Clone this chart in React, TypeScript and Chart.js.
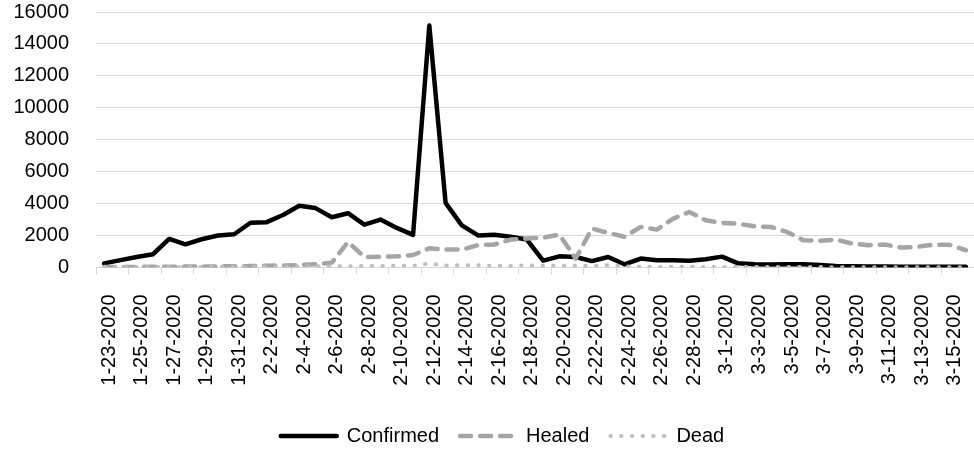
import React, { useEffect, useRef } from "react";
import { Chart, registerables } from "chart.js";

Chart.register(...registerables);

const dates: string[] = [
  "1-23-2020", "1-24-2020", "1-25-2020", "1-26-2020", "1-27-2020", "1-28-2020", "1-29-2020", "1-30-2020", "1-31-2020",
  "2-1-2020", "2-2-2020", "2-3-2020", "2-4-2020", "2-5-2020", "2-6-2020", "2-7-2020", "2-8-2020", "2-9-2020", "2-10-2020",
  "2-11-2020", "2-12-2020", "2-13-2020", "2-14-2020", "2-15-2020", "2-16-2020", "2-17-2020", "2-18-2020", "2-19-2020",
  "2-20-2020", "2-21-2020", "2-22-2020", "2-23-2020", "2-24-2020", "2-25-2020", "2-26-2020", "2-27-2020", "2-28-2020",
  "2-29-2020", "3-1-2020", "3-2-2020", "3-3-2020", "3-4-2020", "3-5-2020", "3-6-2020", "3-7-2020", "3-8-2020",
  "3-9-2020", "3-10-2020", "3-11-2020", "3-12-2020", "3-13-2020", "3-14-2020", "3-15-2020", "3-16-2020",
];

const confirmed: number[] = [
  260, 460, 660, 830, 1790, 1450, 1770, 2000, 2080,
  2800, 2840, 3290, 3870, 3720, 3150, 3400, 2680, 3000, 2480,
  2040, 15150, 4050, 2640, 2010, 2050, 1930, 1750, 430,
  700, 660, 400, 660, 200, 560, 460, 460, 420,
  520, 680, 260, 200, 190, 210, 200, 150, 90,
  80, 60, 60, 50, 40, 40, 50, 40,
];

const healed: number[] = [
  30, 30, 40, 40, 50, 60, 60, 70, 80,
  90, 110, 130, 150, 200, 300, 1600, 660, 670, 700,
  780, 1200, 1120, 1120, 1400, 1440, 1750, 1810, 1870,
  2060, 560, 2440, 2170, 1920, 2540, 2370, 3060, 3480,
  2960, 2790, 2750, 2580, 2540, 2230, 1710, 1670, 1750,
  1500, 1400, 1440, 1250, 1290, 1430, 1420, 1080,
];

const dead: number[] = [
  10, 15, 15, 25, 25, 25, 40, 40, 45,
  45, 55, 65, 65, 75, 75, 85, 90, 95, 105,
  100, 250, 120, 140, 140, 105, 100, 135, 115,
  120, 110, 100, 150, 70, 50, 30, 45, 45,
  35, 40, 30, 40, 30, 30, 30, 25, 20,
  20, 20, 10, 10, 10, 10, 15, 15,
];

const yTicks: number[] = [0, 2000, 4000, 6000, 8000, 10000, 12000, 14000, 16000];

const FONT = "'Liberation Sans', Arial, Helvetica, sans-serif";

const legendShift = {
  id: "legendShift",
  beforeDraw(chart: any) {
    const lg = chart.legend;
    if (lg) {
      lg.left = 31;
      lg.right = 974;
    }
  },
};

export default function App() {
  const ref = useRef<HTMLCanvasElement | null>(null);

  useEffect(() => {
    if (!ref.current) return;
    const chart = new Chart(ref.current, {
      type: "line",
      data: {
        labels: dates,
        datasets: [
          {
            label: "Dead",
            data: dead,
            borderColor: "#bfbfbf",
            backgroundColor: "#bfbfbf",
            borderWidth: 4,
            borderDash: [0.5, 10.2],
            borderCapStyle: "round",
            borderJoinStyle: "round",
            pointRadius: 0,
            tension: 0,
            fill: false,
          },
          {
            label: "Healed",
            data: healed,
            borderColor: "#a5a5a5",
            backgroundColor: "#a5a5a5",
            borderWidth: 4.5,
            borderDash: [11, 9],
            borderCapStyle: "round",
            borderJoinStyle: "round",
            pointRadius: 0,
            tension: 0,
            fill: false,
          },
          {
            label: "Confirmed",
            data: confirmed,
            borderColor: "#000000",
            backgroundColor: "#000000",
            borderWidth: 4.5,
            borderCapStyle: "round",
            borderJoinStyle: "round",
            pointRadius: 0,
            tension: 0,
            fill: false,
          },
        ],
      },
      options: {
        responsive: false,
        animation: false,
        devicePixelRatio: 1,
        layout: { padding: { left: 0, right: 0, top: 12, bottom: -7 } },
        plugins: {
          tooltip: { enabled: false },
          legend: {
            position: "bottom",
            reverse: true,
            labels: {
              usePointStyle: true,
              pointStyle: "line",
              pointStyleWidth: 56,
              boxWidth: 56,
              padding: 21,
              color: "#000000",
              font: { family: FONT, size: 20 },
              generateLabels: (c: any) => {
                const items = (Chart as any).defaults.plugins.legend.labels.generateLabels(c);
                return items.map((it: any) => {
                  const ds = c.data.datasets[it.datasetIndex];
                  return {
                    ...it,
                    lineDash: ds.borderDash || [],
                    lineWidth: ds.borderWidth,
                    lineCap: "round",
                    strokeStyle: ds.borderColor,
                    pointStyle: "line",
                  };
                });
              },
            },
          },
        },
        scales: {
          x: {
            type: "category",
            offset: true,
            afterFit: (scale: any) => {
              scale.height = 137.5;
              scale.paddingLeft = 0;
              scale.paddingRight = 0;
            },
            grid: {
              offset: true,
              drawOnChartArea: false,
              drawTicks: true,
              tickLength: 7,
              lineWidth: 1,
              color: (ctx: any) => {
                const idx = ctx.index;
                if (idx === undefined || idx % 2 === 0) return "#d9d9d9";
                return "rgba(0,0,0,0)";
              },
            },
            border: { display: true, color: "#d9d9d9", width: 1 },
            ticks: {
              autoSkip: false,
              minRotation: 90,
              maxRotation: 90,
              padding: 20,
              labelOffset: 5,
              color: "#000000",
              font: { family: FONT, size: 20 },
              callback: (_v: any, i: number) => (i % 2 === 0 ? dates[i] : ""),
            },
          },
          y: {
            min: yTicks[0],
            max: yTicks[yTicks.length - 1],
            afterFit: (scale: any) => {
              scale.width = 96;
              scale.paddingTop = 0;
              scale.paddingBottom = 0;
            },
            afterBuildTicks: (scale: any) => {
              scale.ticks = yTicks.map((v) => ({ value: v }));
            },
            grid: {
              color: "#d9d9d9",
              lineWidth: 1,
              drawTicks: false,
            },
            border: { display: false },
            ticks: {
              padding: 27,
              color: "#000000",
              font: { family: FONT, size: 20 },
              callback: (v: any) => String(v),
            },
          },
        },
      },
      plugins: [legendShift],
    });
    return () => chart.destroy();
  }, []);

  return (
    <div style={{ position: "absolute", left: 0, top: 0, width: 974, height: 449, background: "#ffffff" }}>
      <canvas ref={ref} width={974} height={449} style={{ display: "block" }} />
    </div>
  );
}
